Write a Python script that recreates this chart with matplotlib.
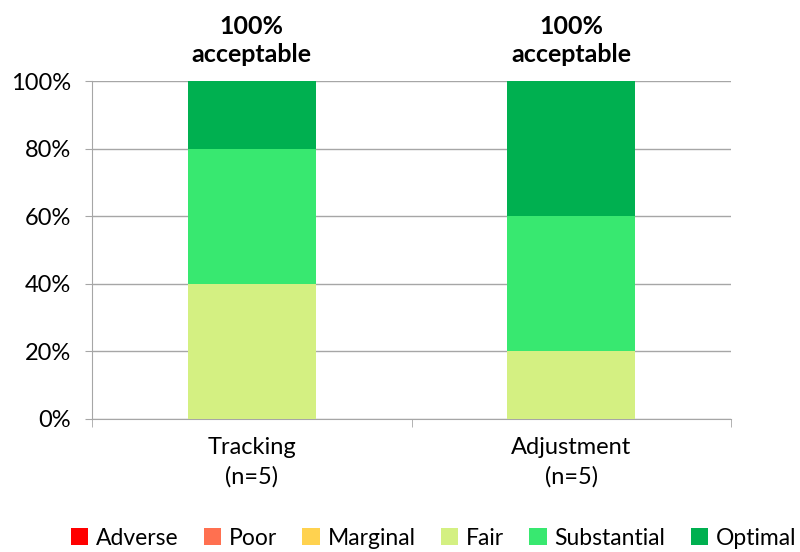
import matplotlib.pyplot as plt
from matplotlib.patches import Patch
import numpy as np

plt.rcParams['font.family'] = ['Lato', 'DejaVu Sans']

categories = ['Tracking\n(n=5)', 'Adjustment\n(n=5)']
levels = ['Adverse', 'Poor', 'Marginal', 'Fair', 'Substantial', 'Optimal']
colors = ['#ff0000', '#ff7050', '#ffd24f', '#d4f082', '#38e870', '#00b050']
adverse = [0, 0]
poor = [0, 0]
marginal = [0, 0]
fair = [40, 20]
substantial = [40, 40]
optimal = [20, 40]
acceptable = ['100%\nacceptable', '100%\nacceptable']

series = [adverse, poor, marginal, fair, substantial, optimal]

fig = plt.figure(figsize=(8, 5.52), dpi=100)
ax = fig.add_axes([0.115, 0.241, 0.799, 0.612])

x = np.arange(len(categories))
bottom = np.zeros(len(categories))
for vals, col in zip(series, colors):
    ax.bar(x, vals, width=0.4, bottom=bottom, color=col, zorder=3)
    bottom += np.array(vals)

ax.set_xlim(-0.5, 1.5)
ax.set_ylim(0, 100)
ax.set_yticks(range(0, 101, 20))
ax.set_yticklabels([f'{v}%' for v in range(0, 101, 20)], fontsize=17)
ax.yaxis.grid(True, color='#a6a6a6', linewidth=1, zorder=0)

ax.set_xticks(x)
ax.set_xticklabels(categories, fontsize=17, linespacing=1.45)
ax.set_xticks([-0.5, 0.5, 1.5], minor=True)
ax.tick_params(axis='x', which='major', length=0, pad=13)
ax.tick_params(axis='x', which='minor', length=6, color='#a6a6a6')
ax.tick_params(axis='y', length=5, color='#a6a6a6', pad=10)

for s in ['top', 'right']:
    ax.spines[s].set_visible(False)
for s in ['left', 'bottom']:
    ax.spines[s].set_color('#a6a6a6')

for xi, txt in zip(x, acceptable):
    ax.text(xi, 104.5, txt, ha='center', va='bottom', fontsize=18,
            fontweight='bold', linespacing=1.25)

handles = [Patch(facecolor=c, label=l) for l, c in zip(levels, colors)]
fig.legend(handles=handles, loc='center', bbox_to_anchor=(0.542, 0.025), ncol=6,
           frameon=False, fontsize=16.5, handlelength=0.75, handleheight=0.75,
           handletextpad=0.35, columnspacing=1.1)

fig.savefig('out.png', dpi=100)
